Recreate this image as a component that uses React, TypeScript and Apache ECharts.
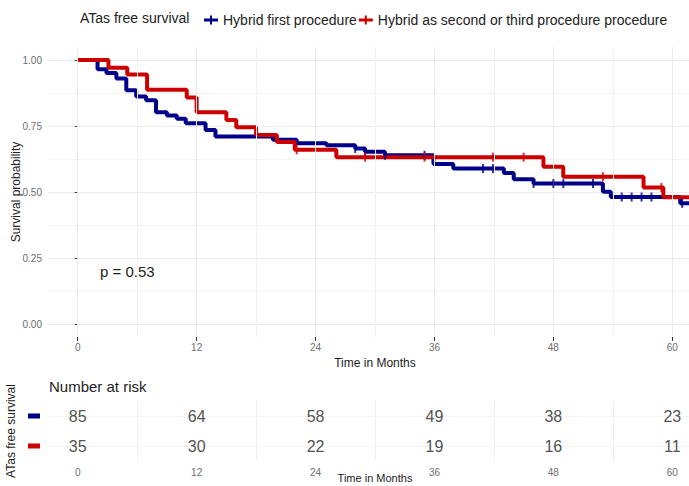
import React, { useEffect, useRef } from 'react';
import * as echarts from 'echarts';

const BLUE = '#00008B';
const RED = '#CD0000';
const FONT = "'Liberation Sans', Arial, sans-serif";

const groupNames = ['Hybrid first procedure', 'Hybrid as second or third procedure procedure'];
const legendTitle = 'ATas free survival';
const xAxisTitle = 'Time in Months';

// Kaplan-Meier step points (time in months, survival after the step)
const blueTime = [0, 2, 2.9, 3.9, 4.9, 5.9, 6.9, 7.9, 9, 10, 10.9, 12.9, 13.9, 19.7, 22.1, 25.1, 28, 29, 31, 35.9, 37.9, 43, 44, 46, 53, 53.8, 60.8, 63];
const blueSurv = [1, 0.965, 0.951, 0.93, 0.885, 0.862, 0.848, 0.802, 0.79, 0.777, 0.76, 0.735, 0.71, 0.698, 0.685, 0.677, 0.665, 0.652, 0.639, 0.606, 0.589, 0.572, 0.548, 0.532, 0.501, 0.481, 0.457, 0.457];
const blueCensorTime = [28, 29, 31, 35, 40.9, 41.9, 46, 48, 49, 52, 54.9, 55.9, 56.9, 57.9, 61];
const blueCensorSurv = [0.665, 0.652, 0.639, 0.639, 0.589, 0.589, 0.532, 0.532, 0.532, 0.532, 0.481, 0.481, 0.481, 0.481, 0.457];

const redTime = [0, 3.1, 5, 7, 11, 12, 15, 16, 18, 20.1, 21.9, 26.1, 47, 49, 57.1, 59.1, 63];
const redSurv = [1, 0.971, 0.945, 0.887, 0.858, 0.802, 0.773, 0.745, 0.716, 0.689, 0.66, 0.632, 0.596, 0.558, 0.517, 0.48, 0.48];
const redCensorTime = [22.1, 29, 35, 41.9, 45, 53, 58.9];
const redCensorSurv = [0.66, 0.632, 0.632, 0.632, 0.632, 0.558, 0.517];

// risk table
const riskTimes = [0, 12, 24, 36, 48, 60];
const riskBlue = [85, 64, 58, 49, 38, 23];
const riskRed = [35, 30, 22, 19, 16, 11];

// axes
const xTicks = [0, 12, 24, 36, 48, 60];
const xMinorTicks = [6, 18, 30, 42, 54];
const yTicks = [0, 0.25, 0.5, 0.75, 1];
const pValueText = 'p = 0.53';

const LEGEND_ICON = 'path://M0,3H14V6H0Z M6,0H8V9H6Z';
const AXIS_LABEL_COLOR = '#6e6e6e';

export default function App() {
  const ref = useRef<HTMLDivElement>(null);

  useEffect(() => {
    if (!ref.current) return;
    const chart = echarts.init(ref.current, null, { renderer: 'svg' });

    const toPairs = (t: number[], s: number[]) => t.map((v, i) => [v, s[i]]);

    const option: any = {
      animation: false,
      backgroundColor: '#ffffff',
      textStyle: { fontFamily: FONT },
      legend: {
        left: 199,
        top: 8,
        itemWidth: 14,
        itemHeight: 9,
        itemGap: 2,
        data: groupNames.map((n) => ({ name: n, icon: LEGEND_ICON })),
        textStyle: { fontSize: 14, color: '#222', fontFamily: FONT },
      },
      graphic: [
        {
          type: 'text',
          x: 80,
          y: 18,
          style: { text: legendTitle, fontSize: 14, fill: '#222', fontFamily: FONT, align: 'left', verticalAlign: 'middle' },
        },
        {
          type: 'text',
          x: 100,
          y: 271,
          style: { text: pValueText, fontSize: 15, fill: '#222', fontFamily: FONT, align: 'left', verticalAlign: 'middle' },
        },
        {
          type: 'text',
          x: 49,
          y: 386,
          style: { text: 'Number at risk', fontSize: 15, fill: '#222', fontFamily: FONT, align: 'left', verticalAlign: 'middle' },
        },
        {
          type: 'text',
          x: 375,
          y: 478,
          style: { text: xAxisTitle, fontSize: 11, fill: '#222', fontFamily: FONT, align: 'center', verticalAlign: 'middle' },
        },
      ],
      grid: [
        { left: 48, width: 654, top: 60, height: 264, outerBoundsMode: 'none', containLabel: false },
        { left: 48, width: 654, top: 47, height: 290, outerBoundsMode: 'none', containLabel: false },
        { left: 48, width: 654, top: 401, height: 60, outerBoundsMode: 'none', containLabel: false },
      ],
      xAxis: [
        { gridIndex: 0, type: 'value', min: -3, max: 63, show: false },
        {
          gridIndex: 1,
          type: 'value',
          min: -3,
          max: 63,
          axisLine: { show: false },
          axisTick: { show: true, customValues: xTicks, length: 4, lineStyle: { color: '#333' } },
          axisLabel: { customValues: xTicks, fontSize: 10, color: AXIS_LABEL_COLOR, margin: 5, fontFamily: FONT },
          splitLine: { show: false },
          name: xAxisTitle,
          nameLocation: 'middle',
          nameGap: 16,
          nameTextStyle: { fontSize: 12, color: '#222', fontFamily: FONT },
        },
        {
          gridIndex: 2,
          type: 'value',
          min: -3,
          max: 63,
          axisLine: { show: false },
          axisTick: { show: false },
          axisLabel: { customValues: xTicks, fontSize: 10, color: AXIS_LABEL_COLOR, margin: 6, fontFamily: FONT },
          splitLine: { show: false },
        },
      ],
      yAxis: [
        {
          gridIndex: 0,
          type: 'value',
          min: 0,
          max: 1,
          interval: 0.25,
          axisLine: { show: false },
          axisTick: { show: true, length: 3, lineStyle: { color: '#333' } },
          axisLabel: {
            formatter: (v: number) => (yTicks.includes(v) ? v.toFixed(2) : ''),
            fontSize: 10,
            color: AXIS_LABEL_COLOR,
            margin: 6,
            fontFamily: FONT,
          },
          splitLine: { show: true, lineStyle: { color: '#ebebeb', width: 1 } },
          minorTick: { show: false, splitNumber: 2 },
          minorSplitLine: { show: true, lineStyle: { color: '#f4f4f4', width: 1 } },
          name: 'Survival probability',
          nameLocation: 'middle',
          nameGap: 26,
          nameMoveOverlap: false,
          nameTextStyle: { fontSize: 12, color: '#222', fontFamily: FONT },
        },
        { gridIndex: 1, type: 'value', min: 0, max: 1, show: false },
        {
          gridIndex: 2,
          type: 'category',
          data: [groupNames[1], groupNames[0]],
          axisLine: { show: false },
          axisTick: { show: false },
          splitLine: { show: false },
          axisLabel: {
            margin: 8,
            formatter: (v: string) => (v === groupNames[0] ? '{b|}' : '{r|}'),
            rich: {
              b: { backgroundColor: BLUE, width: 12, height: 5 },
              r: { backgroundColor: RED, width: 12, height: 5 },
            },
          },
          name: legendTitle,
          nameLocation: 'middle',
          nameGap: 28,
          nameTextStyle: { fontSize: 12, color: '#222', fontFamily: FONT },
        },
      ],
      series: [
        // main panel vertical gridlines
        {
          name: 'grid-v',
          type: 'line',
          xAxisIndex: 1,
          yAxisIndex: 1,
          data: [[-3, 0]],
          symbol: 'none',
          silent: true,
          z: 0,
          lineStyle: { width: 0 },
          markLine: {
            silent: true,
            symbol: 'none',
            label: { show: false },
            animation: false,
            data: [
              ...xTicks.map((x) => ({ xAxis: x, lineStyle: { color: '#ebebeb', width: 1, type: 'solid' } })),
              ...xMinorTicks.map((x) => ({ xAxis: x, lineStyle: { color: '#f2f2f2', width: 1, type: 'solid' } })),
            ],
          },
        },
        // risk table gridlines
        {
          name: 'grid-risk',
          type: 'line',
          xAxisIndex: 2,
          yAxisIndex: 2,
          data: [],
          symbol: 'none',
          silent: true,
          z: 0,
          lineStyle: { width: 0 },
          markLine: {
            silent: true,
            symbol: 'none',
            label: { show: false },
            animation: false,
            data: [
              ...xMinorTicks.map((x) => ({ xAxis: x, lineStyle: { color: '#efefef', width: 1, type: 'solid' } })),
              ...groupNames.map((g) => ({ yAxis: g, lineStyle: { color: '#f4f4f4', width: 1, type: 'solid' } })),
            ],
          },
        },
        {
          name: groupNames[0],
          type: 'line',
          xAxisIndex: 0,
          yAxisIndex: 0,
          step: 'end',
          symbol: 'none',
          clip: false,
          color: BLUE,
          lineStyle: { color: BLUE, width: 4 },
          z: 3,
          data: toPairs(blueTime, blueSurv),
        },
        {
          name: groupNames[1],
          type: 'line',
          xAxisIndex: 0,
          yAxisIndex: 0,
          step: 'end',
          symbol: 'none',
          clip: false,
          color: RED,
          lineStyle: { color: RED, width: 4 },
          z: 4,
          data: toPairs(redTime, redSurv),
        },
        {
          name: 'blue-censor',
          type: 'scatter',
          xAxisIndex: 0,
          yAxisIndex: 0,
          symbol: 'rect',
          symbolSize: [2, 9],
          itemStyle: { color: BLUE },
          z: 5,
          data: toPairs(blueCensorTime, blueCensorSurv),
        },
        {
          name: 'red-censor',
          type: 'scatter',
          xAxisIndex: 0,
          yAxisIndex: 0,
          symbol: 'rect',
          symbolSize: [2, 9],
          itemStyle: { color: RED },
          z: 6,
          data: toPairs(redCensorTime, redCensorSurv),
        },
        {
          name: 'risk-blue',
          type: 'scatter',
          xAxisIndex: 2,
          yAxisIndex: 2,
          symbolSize: 1,
          itemStyle: { color: 'rgba(0,0,0,0)' },
          z: 5,
          label: {
            show: true,
            position: 'inside',
            fontSize: 16,
            color: '#222',
            fontFamily: FONT,
            formatter: (p: any) => String(p.value[2]),
          },
          data: riskTimes.map((t, i) => [t, groupNames[0], riskBlue[i]]),
        },
        {
          name: 'risk-red',
          type: 'scatter',
          xAxisIndex: 2,
          yAxisIndex: 2,
          symbolSize: 1,
          itemStyle: { color: 'rgba(0,0,0,0)' },
          z: 5,
          label: {
            show: true,
            position: 'inside',
            fontSize: 16,
            color: '#222',
            fontFamily: FONT,
            formatter: (p: any) => String(p.value[2]),
          },
          data: riskTimes.map((t, i) => [t, groupNames[1], riskRed[i]]),
        },
      ],
    };

    chart.setOption(option);
    return () => {
      chart.dispose();
    };
  }, []);

  return (
    <div
      style={{ position: 'fixed', left: 0, top: 0, width: 689, height: 486, overflow: 'hidden', background: '#fff' }}
    >
      <div ref={ref} style={{ width: 702, height: 486 }} />
    </div>
  );
}
